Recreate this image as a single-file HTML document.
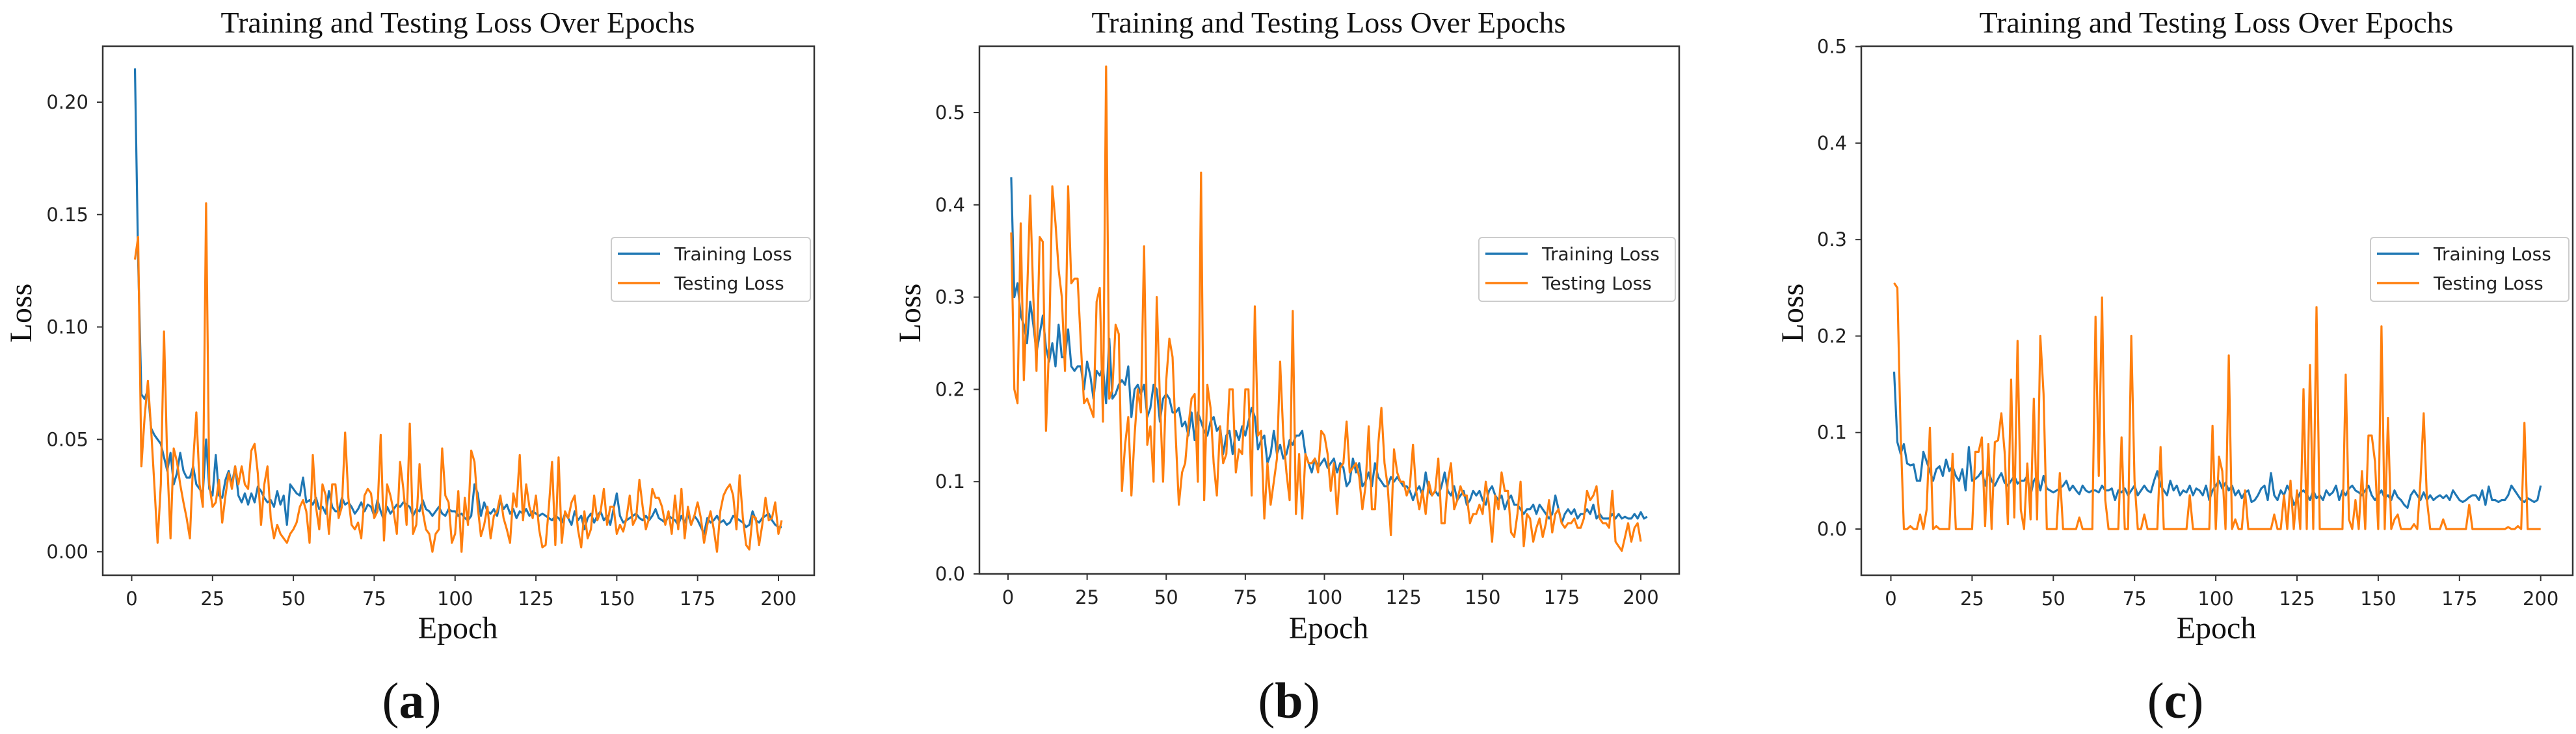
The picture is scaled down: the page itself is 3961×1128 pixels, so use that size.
<!DOCTYPE html>
<html><head><meta charset="utf-8"><style>
html,body{margin:0;padding:0;background:#fff;}
svg{display:block;}
.tick{font-family:"DejaVu Sans","Liberation Sans",sans-serif;font-size:29px;fill:#222;}
.serif{font-family:"Liberation Serif",serif;fill:#111;}
.leg{font-family:"DejaVu Sans","Liberation Sans",sans-serif;font-size:28px;fill:#222;}
</style></head><body>
<svg id="fig" width="3961" height="1128" viewBox="0 0 3961 1128" xmlns="http://www.w3.org/2000/svg"></svg>
<script>
// ---- data ----
const xTicks = [0,25,50,75,100,125,150,175,200];
const aYTicks = [0.00,0.05,0.10,0.15,0.20];
const bYTicks = [0.0,0.1,0.2,0.3,0.4,0.5];
const cYTicks = [0.0,0.1,0.2,0.3,0.4,0.5];
const panelLabels = ["a","b","c"];
const aTrain = [0.215,0.13,0.07,0.068,0.072,0.055,0.052,0.05,0.048,0.042,
0.036,0.044,0.03,0.035,0.044,0.036,0.033,0.033,0.038,0.03,
0.028,0.026,0.05,0.028,0.025,0.043,0.025,0.024,0.032,0.036,
0.03,0.038,0.025,0.022,0.026,0.021,0.026,0.022,0.029,0.027,
0.024,0.022,0.023,0.02,0.027,0.021,0.025,0.012,0.03,0.028,
0.026,0.025,0.033,0.022,0.023,0.021,0.024,0.019,0.02,0.017,
0.027,0.02,0.018,0.018,0.024,0.021,0.022,0.02,0.017,0.019,
0.022,0.018,0.021,0.02,0.016,0.023,0.018,0.014,0.02,0.017,
0.019,0.021,0.02,0.022,0.021,0.02,0.016,0.019,0.018,0.023,
0.019,0.018,0.016,0.018,0.02,0.017,0.016,0.019,0.018,0.018,
0.016,0.017,0.015,0.014,0.016,0.03,0.026,0.016,0.022,0.018,
0.017,0.019,0.016,0.023,0.019,0.021,0.017,0.019,0.015,0.018,
0.017,0.019,0.016,0.018,0.017,0.016,0.017,0.016,0.015,0.014,
0.016,0.015,0.013,0.017,0.015,0.012,0.018,0.014,0.016,0.01,
0.015,0.017,0.013,0.016,0.018,0.014,0.016,0.012,0.019,0.026,
0.016,0.013,0.014,0.015,0.016,0.017,0.015,0.014,0.016,0.014,
0.016,0.019,0.015,0.014,0.013,0.016,0.015,0.014,0.012,0.016,
0.013,0.017,0.012,0.016,0.014,0.011,0.008,0.015,0.013,0.014,
0.016,0.013,0.014,0.012,0.013,0.016,0.015,0.014,0.013,0.011,
0.012,0.018,0.014,0.013,0.015,0.016,0.017,0.014,0.012,0.011,0.011];
const aTest = [0.13,0.14,0.038,0.06,0.076,0.055,0.03,0.004,0.03,0.098,
0.04,0.006,0.046,0.04,0.03,0.022,0.015,0.006,0.04,0.062,
0.03,0.02,0.155,0.03,0.02,0.022,0.032,0.013,0.025,0.035,
0.028,0.038,0.03,0.038,0.03,0.028,0.045,0.048,0.035,0.012,
0.03,0.038,0.015,0.006,0.012,0.008,0.006,0.004,0.008,0.01,
0.013,0.02,0.023,0.018,0.004,0.043,0.02,0.01,0.03,0.025,
0.008,0.03,0.03,0.015,0.02,0.053,0.024,0.012,0.01,0.013,
0.006,0.025,0.028,0.026,0.015,0.018,0.052,0.005,0.03,0.025,
0.018,0.008,0.04,0.028,0.012,0.057,0.008,0.012,0.039,0.018,
0.01,0.008,0.0,0.008,0.01,0.046,0.025,0.022,0.004,0.008,
0.027,0.0,0.024,0.012,0.045,0.04,0.02,0.007,0.012,0.02,
0.006,0.016,0.018,0.025,0.015,0.01,0.004,0.026,0.02,0.043,
0.014,0.03,0.02,0.015,0.025,0.01,0.002,0.003,0.02,0.04,
0.003,0.042,0.004,0.018,0.015,0.022,0.025,0.01,0.002,0.018,
0.006,0.01,0.025,0.014,0.018,0.028,0.012,0.02,0.02,0.008,
0.012,0.009,0.015,0.025,0.012,0.015,0.032,0.02,0.01,0.015,
0.028,0.024,0.024,0.02,0.012,0.018,0.008,0.025,0.01,0.028,
0.006,0.02,0.012,0.016,0.022,0.015,0.004,0.012,0.018,0.01,
0.0,0.018,0.025,0.028,0.03,0.025,0.01,0.034,0.015,0.003,
0.001,0.016,0.015,0.003,0.012,0.024,0.014,0.015,0.022,0.008,0.014];
const bTrain = [0.43,0.3,0.315,0.28,0.27,0.25,0.295,0.27,0.24,0.26,
0.28,0.245,0.23,0.25,0.225,0.27,0.235,0.235,0.265,0.225,
0.22,0.225,0.225,0.2,0.23,0.215,0.19,0.22,0.215,0.225,
0.185,0.255,0.19,0.195,0.205,0.21,0.205,0.225,0.17,0.2,
0.205,0.195,0.205,0.17,0.18,0.205,0.2,0.165,0.19,0.195,
0.19,0.175,0.175,0.18,0.16,0.165,0.15,0.175,0.145,0.175,
0.165,0.155,0.15,0.165,0.17,0.155,0.16,0.13,0.15,0.155,
0.13,0.155,0.145,0.16,0.15,0.165,0.18,0.17,0.135,0.145,
0.15,0.12,0.13,0.155,0.13,0.14,0.125,0.13,0.145,0.14,
0.15,0.15,0.155,0.13,0.12,0.11,0.125,0.115,0.12,0.125,
0.115,0.12,0.125,0.11,0.12,0.115,0.095,0.1,0.125,0.11,
0.12,0.095,0.1,0.11,0.095,0.12,0.105,0.1,0.095,0.095,
0.105,0.1,0.105,0.1,0.095,0.095,0.09,0.08,0.09,0.095,
0.085,0.11,0.09,0.085,0.09,0.085,0.095,0.11,0.09,0.085,
0.095,0.08,0.085,0.09,0.075,0.08,0.09,0.085,0.09,0.08,
0.075,0.09,0.095,0.085,0.08,0.085,0.07,0.08,0.085,0.075,
0.075,0.07,0.065,0.07,0.07,0.075,0.065,0.075,0.07,0.065,
0.06,0.065,0.085,0.07,0.055,0.065,0.07,0.065,0.07,0.06,
0.065,0.065,0.07,0.065,0.075,0.06,0.065,0.06,0.06,0.06,
0.065,0.06,0.065,0.06,0.062,0.06,0.06,0.065,0.06,0.067,0.06,0.062];
const bTest = [0.37,0.2,0.185,0.38,0.21,0.3,0.41,0.3,0.22,0.365,
0.36,0.155,0.25,0.42,0.38,0.33,0.3,0.22,0.42,0.315,
0.32,0.32,0.25,0.185,0.19,0.18,0.17,0.295,0.31,0.165,
0.55,0.19,0.2,0.27,0.26,0.09,0.14,0.17,0.085,0.15,
0.2,0.175,0.355,0.14,0.16,0.1,0.3,0.19,0.1,0.21,
0.255,0.235,0.15,0.075,0.11,0.12,0.16,0.19,0.195,0.1,
0.435,0.08,0.205,0.18,0.12,0.085,0.16,0.12,0.13,0.2,
0.2,0.11,0.135,0.13,0.2,0.2,0.085,0.29,0.15,0.155,
0.06,0.12,0.075,0.1,0.125,0.23,0.15,0.11,0.08,0.285,
0.065,0.13,0.06,0.13,0.12,0.12,0.125,0.11,0.155,0.15,
0.13,0.09,0.12,0.065,0.115,0.12,0.165,0.11,0.115,0.12,
0.105,0.07,0.095,0.16,0.07,0.07,0.14,0.18,0.12,0.095,
0.042,0.135,0.11,0.1,0.1,0.085,0.095,0.14,0.09,0.07,
0.09,0.065,0.1,0.085,0.09,0.125,0.055,0.055,0.1,0.12,
0.07,0.08,0.095,0.085,0.085,0.055,0.065,0.065,0.075,0.065,
0.1,0.075,0.035,0.085,0.07,0.11,0.09,0.09,0.045,0.04,
0.065,0.1,0.03,0.065,0.06,0.035,0.05,0.06,0.04,0.055,
0.08,0.045,0.065,0.07,0.055,0.05,0.055,0.055,0.06,0.05,
0.05,0.06,0.09,0.08,0.085,0.095,0.06,0.055,0.055,0.05,
0.09,0.035,0.03,0.025,0.04,0.055,0.035,0.05,0.055,0.035];
const cTrain = [0.163,0.09,0.078,0.088,0.068,0.066,0.067,0.05,0.05,0.08,
0.07,0.06,0.05,0.062,0.065,0.055,0.072,0.06,0.065,0.055,
0.05,0.062,0.04,0.085,0.05,0.052,0.055,0.06,0.045,0.06,
0.05,0.045,0.052,0.058,0.048,0.045,0.05,0.055,0.047,0.05,
0.05,0.055,0.035,0.05,0.055,0.04,0.055,0.042,0.04,0.038,
0.04,0.042,0.045,0.05,0.04,0.045,0.04,0.036,0.045,0.04,
0.038,0.04,0.04,0.038,0.045,0.04,0.04,0.042,0.03,0.04,
0.038,0.042,0.035,0.04,0.045,0.035,0.04,0.045,0.04,0.038,
0.05,0.06,0.045,0.04,0.035,0.05,0.04,0.045,0.035,0.04,
0.038,0.045,0.035,0.042,0.04,0.035,0.045,0.03,0.04,0.045,
0.05,0.042,0.048,0.04,0.045,0.035,0.04,0.032,0.038,0.04,
0.028,0.03,0.035,0.042,0.045,0.03,0.058,0.035,0.03,0.04,
0.035,0.045,0.038,0.025,0.03,0.038,0.04,0.036,0.03,0.04,
0.032,0.035,0.03,0.04,0.035,0.038,0.045,0.03,0.04,0.035,
0.042,0.045,0.04,0.038,0.035,0.04,0.045,0.035,0.03,0.035,
0.04,0.032,0.035,0.03,0.04,0.033,0.03,0.025,0.022,0.035,
0.04,0.035,0.03,0.038,0.03,0.035,0.03,0.033,0.035,0.032,
0.035,0.03,0.04,0.035,0.03,0.028,0.03,0.033,0.035,0.035,
0.03,0.04,0.025,0.044,0.03,0.03,0.028,0.03,0.03,0.035,
0.045,0.04,0.035,0.03,0.028,0.032,0.03,0.028,0.03,0.045];
const cTest = [0.255,0.25,0.1,0.0,0.0,0.003,0.0,0.0,0.015,0.0,
0.02,0.105,0.0,0.003,0.0,0.0,0.0,0.0,0.078,0.0,
0.0,0.0,0.0,0.0,0.0,0.08,0.08,0.095,0.003,0.088,
0.0,0.09,0.092,0.12,0.08,0.005,0.155,0.012,0.195,0.02,
0.0,0.068,0.01,0.135,0.01,0.2,0.14,0.0,0.0,0.0,
0.0,0.058,0.0,0.0,0.0,0.0,0.0,0.012,0.0,0.0,
0.0,0.0,0.22,0.055,0.24,0.03,0.0,0.0,0.0,0.0,
0.095,0.0,0.0,0.2,0.05,0.0,0.0,0.015,0.0,0.0,
0.0,0.0,0.085,0.0,0.0,0.0,0.0,0.0,0.0,0.0,
0.0,0.035,0.0,0.0,0.0,0.0,0.0,0.0,0.107,0.0,
0.075,0.06,0.0,0.18,0.0,0.01,0.0,0.0,0.04,0.0,
0.0,0.0,0.0,0.0,0.0,0.0,0.0,0.015,0.0,0.0,
0.035,0.0,0.05,0.0,0.04,0.0,0.145,0.0,0.17,0.0,
0.23,0.0,0.0,0.0,0.0,0.0,0.0,0.0,0.0,0.16,
0.01,0.0,0.03,0.0,0.06,0.0,0.097,0.097,0.07,0.0,
0.21,0.0,0.115,0.0,0.01,0.015,0.0,0.0,0.0,0.0,
0.005,0.0,0.05,0.12,0.03,0.0,0.0,0.0,0.0,0.01,
0.0,0.0,0.0,0.0,0.0,0.0,0.0,0.025,0.0,0.0,
0.0,0.0,0.0,0.0,0.0,0.0,0.0,0.0,0.0,0.002,
0.0,0.0,0.003,0.0,0.11,0.0,0.0,0.0,0.0,0.0];

const NS = "http://www.w3.org/2000/svg";
const fig = document.getElementById('fig');
function mk(tag, attrs, parent){ const e=document.createElementNS(NS,tag); for(const k in attrs) e.setAttribute(k,attrs[k]); (parent||fig).appendChild(e); return e; }

const panels = [
 {id:"a", L:158, R:1252, T:71, B:884, x0:202.5, x200:1197, y0px:848, ypu:3455, yticks:aYTicks, dec:2, train:aTrain, test:aTest, cx:704, lossX:32, legX:940, legW:306, labX:633},
 {id:"b", L:1506, R:2582, T:71, B:882, x0:1550, x200:2523, y0px:882, ypu:1418, yticks:bYTicks, dec:1, train:bTrain, test:bTest, cx:2043, lossX:1399, legX:2274, legW:302, labX:1982},
 {id:"c", L:2862, R:3956, T:71, B:884, x0:2907.5, x200:3906.7, y0px:813, ypu:1482.8, yticks:cYTicks, dec:1, train:cTrain, test:cTest, cx:3408, lossX:2756, legX:3645, legW:305, labX:3345}
];

panels.forEach((p, pi) => {
  const g = mk('g', {});
  
  
  const xs = v => p.x0 + (p.x200 - p.x0) * v / 200;
  const ys = v => p.y0px - v * p.ypu;

  const t = mk('text', {x:p.cx, y:50, 'text-anchor':'middle', class:'serif', 'font-size':'46'}, g);
  t.textContent = 'Training and Testing Loss Over Epochs';
  
  

  const series = [[p.train,'#1f77b4','training-loss-line'],[p.test,'#ff7f0e','testing-loss-line']];
  series.forEach(s => {
    const d = s[0].map((v,i) => (i?'L':'M') + xs(i+1).toFixed(1) + ',' + ys(v).toFixed(1)).join(' ');
    const path = mk('path', {d:d, fill:'none', stroke:s[1], 'stroke-width':'3.2', 'stroke-linejoin':'round'}, g);
    
    
  });

  const fr = mk('rect', {x:p.L, y:p.T, width:p.R-p.L, height:p.B-p.T, fill:'none', stroke:'#333', 'stroke-width':'2.5'}, g);
  
  

  xTicks.forEach(v => {
    const x = xs(v);
    mk('line', {x1:x, x2:x, y1:p.B, y2:p.B+9, stroke:'#333', 'stroke-width':'2'}, g);
    const lb = mk('text', {x:x, y:p.B+46, 'text-anchor':'middle', class:'tick'}, g);
    lb.textContent = v;
    
    
  });
  p.yticks.forEach(v => {
    const y = ys(v);
    mk('line', {x1:p.L-9, x2:p.L, y1:y, y2:y, stroke:'#333', 'stroke-width':'2'}, g);
    const lb = mk('text', {x:p.L-22, y:y+10, 'text-anchor':'end', class:'tick'}, g);
    lb.textContent = v.toFixed(p.dec);
    
    
  });

  const xt = mk('text', {x:p.cx, y:981, 'text-anchor':'middle', class:'serif', 'font-size':'48'}, g);
  xt.textContent = 'Epoch';
  
  
  const yt = mk('text', {x:0, y:0, 'text-anchor':'middle', class:'serif', 'font-size':'48', transform:'translate(' + (p.lossX+16) + ',481) rotate(-90)'}, g);
  yt.textContent = 'Loss';
  
  

  const lg = mk('g', {}, g);
  
  
  mk('rect', {x:p.legX, y:365, width:p.legW, height:98, rx:5, fill:'#fff', 'fill-opacity':'0.8', stroke:'#ccc', 'stroke-width':'2'}, lg);
  [['Training Loss','#1f77b4',390],['Testing Loss','#ff7f0e',435]].forEach(e => {
    const en = mk('g', {}, lg);
    
    
    mk('line', {x1:p.legX+10, x2:p.legX+75, y1:e[2], y2:e[2], stroke:e[1], 'stroke-width':'3.5'}, en);
    const tx = mk('text', {x:p.legX+97, y:e[2]+10, class:'leg'}, en);
    tx.textContent = e[0];
  });

  const pl = mk('text', {x:p.labX, y:1103, 'text-anchor':'middle', class:'serif', 'font-size':'78'}, g);
  
  
  pl.appendChild(document.createTextNode('('));
  const b = mk('tspan', {'font-weight':'bold'}, pl);
  b.textContent = panelLabels[pi];
  pl.appendChild(document.createTextNode(')'));
});
</script>
</body></html>
